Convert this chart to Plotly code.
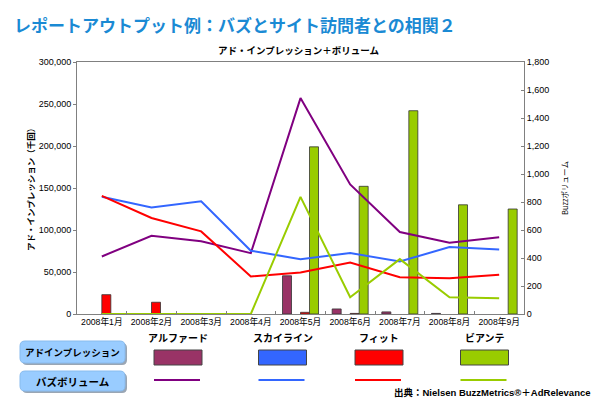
import plotly.graph_objects as go

months = ["2008年1月", "2008年2月", "2008年3月", "2008年4月", "2008年5月",
          "2008年6月", "2008年7月", "2008年8月", "2008年9月"]
models = ["アルファード", "スカイライン", "フィット", "ビアンテ"]

# Ad impressions (thousand), left axis
imp_alphard = [None, None, None, None, 45500, 6000, 2500, 700, None]
imp_skyline = [None, None, None, None, None, None, None, None, None]
imp_fit = [23000, 14000, None, None, 2000, 700, None, None, None]
imp_bianta = [None, None, None, None, 199000, 152000, 242000, 130000, 125000]

# Buzz volume, right axis
buzz_alphard = [411, 559, 519, 435, 1542, 925, 586, 509, 548]
buzz_skyline = [837, 760, 805, 452, 392, 435, 375, 478, 461]
buzz_fit = [844, 686, 590, 268, 296, 368, 263, 256, 280]
buzz_bianta = [0, 0, 0, 0, 837, 120, 392, 120, 113]

bar_colors = ["#993366", "#3366FF", "#FF0000", "#99CC00"]
line_colors = ["#800080", "#3366FF", "#FF0000", "#99CC00"]

W, H = 600, 418
L, R, T, B = 77, 76, 62, 104
PW, PH = W - L - R, H - T - B

def fx(px):
    return (px - L) / PW

def fy(py):
    return (T + PH - py) / PH

FONT = "Liberation Sans, Noto Sans CJK JP, sans-serif"
JFONT = "Noto Sans CJK JP, sans-serif"

fig = go.Figure()
for name, vals, col in zip(models, [imp_alphard, imp_skyline, imp_fit, imp_bianta], bar_colors):
    fig.add_trace(go.Bar(x=months, y=vals, name=name, marker=dict(color=col, line=dict(color="#333333", width=0.8)),
                         yaxis="y", showlegend=False))
for name, vals, col in zip(models, [buzz_alphard, buzz_skyline, buzz_fit, buzz_bianta], line_colors):
    fig.add_trace(go.Scatter(x=months, y=vals, name=name, mode="lines", line=dict(color=col, width=2),
                             yaxis="y2", showlegend=False, cliponaxis=False))

shapes = []
annotations = []

def ann(px, py, text, size, family=JFONT, color="#000000", xanchor="center", angle=0):
    annotations.append(dict(x=fx(px), y=fy(py), xref="paper", yref="paper", text=text, showarrow=False,
                            xanchor=xanchor, yanchor="middle", textangle=angle,
                            font=dict(family=family, size=size, color=color)))

def rounded(x0, y0, x1, y1, r):
    X0, X1 = fx(x0), fx(x1)
    Y0, Y1 = fy(y0), fy(y1)
    rx, ry = r / PW, r / PH
    return (f"M{X0+rx},{Y0} L{X1-rx},{Y0} Q{X1},{Y0} {X1},{Y0-ry} L{X1},{Y1+ry} Q{X1},{Y1} {X1-rx},{Y1} "
            f"L{X0+rx},{Y1} Q{X0},{Y1} {X0},{Y1+ry} L{X0},{Y0-ry} Q{X0},{Y0} {X0+rx},{Y0} Z")

# legend boxes
for (y0, y1, txt, fs) in [(341, 363, "アドインプレッション", 9.5), (371, 391, "バズボリューム", 10.5)]:
    shapes.append(dict(type="path", xref="paper", yref="paper", path=rounded(22, y0 + 2, 127, y1 + 2, 5),
                       fillcolor="#9aa6b4", line=dict(width=0), layer="above"))
    shapes.append(dict(type="path", xref="paper", yref="paper", path=rounded(20, y0, 125, y1, 5),
                       fillcolor="#99CCFF", line=dict(color="#88bbee", width=1), layer="above"))
    ann(72.5, (y0 + y1) / 2, f"<b>{txt}</b>", fs)

centers = [178, 282.5, 379, 484.5]
for c, name, bc, lc in zip(centers, models, bar_colors, line_colors):
    shapes.append(dict(type="rect", xref="paper", yref="paper", x0=fx(c - 24), x1=fx(c + 24), y0=fy(350), y1=fy(365),
                       fillcolor=bc, line=dict(color="#444444", width=1), layer="above"))
    shapes.append(dict(type="line", xref="paper", yref="paper", x0=fx(c - 24), x1=fx(c + 22), y0=fy(380), y1=fy(380),
                       line=dict(color=lc, width=2), layer="above"))
    ann(c, 337, f"<b>{name}</b>", 10)

ann(593, 392, "<b>出典：Nielsen BuzzMetrics®＋AdRelevance</b>", 9.5, family=FONT, xanchor="right")
ann(12, 24, "<b>レポートアウトプット例：バズとサイト訪問者との相関２</b>", 17, color="#1A8AD4", xanchor="left")
ann(298, 50, "<b>アド・インプレッション＋ボリューム</b>", 9.5)
ann(30, 188, "<b>アド・インプレッション（千回）</b>", 8.5, angle=-90)
ann(564, 188, "Buzzボリューム", 7.5, angle=-90)

fig.update_layout(
    width=W, height=H, autosize=False,
    margin=dict(l=L, r=R, t=T, b=B, pad=0),
    paper_bgcolor="white", plot_bgcolor="white",
    barmode="group", bargap=0.275, bargroupgap=0,
    font=dict(family=FONT, size=9, color="#000000"),
    xaxis=dict(type="category", showline=True, linecolor="#808080", linewidth=1, mirror=True,
               ticks="inside", tickson="boundaries", ticklen=3, tickcolor="#808080", tickangle=0,
               tickfont=dict(size=8.7), showgrid=False, zeroline=False),
    yaxis=dict(range=[0, 300000], dtick=50000, tickformat=",", showline=True, linecolor="#808080",
               ticks="outside", ticklen=3, tickcolor="#808080", showgrid=False, zeroline=False,
               tickfont=dict(size=9)),
    yaxis2=dict(range=[0, 1800], dtick=200, tickformat=",", overlaying="y", side="right", showline=True,
                linecolor="#808080", ticks="inside", ticklen=3, tickcolor="#808080", showgrid=False,
                zeroline=False, tickfont=dict(size=9)),
    shapes=shapes, annotations=annotations,
)

fig.write_html("out.html")
